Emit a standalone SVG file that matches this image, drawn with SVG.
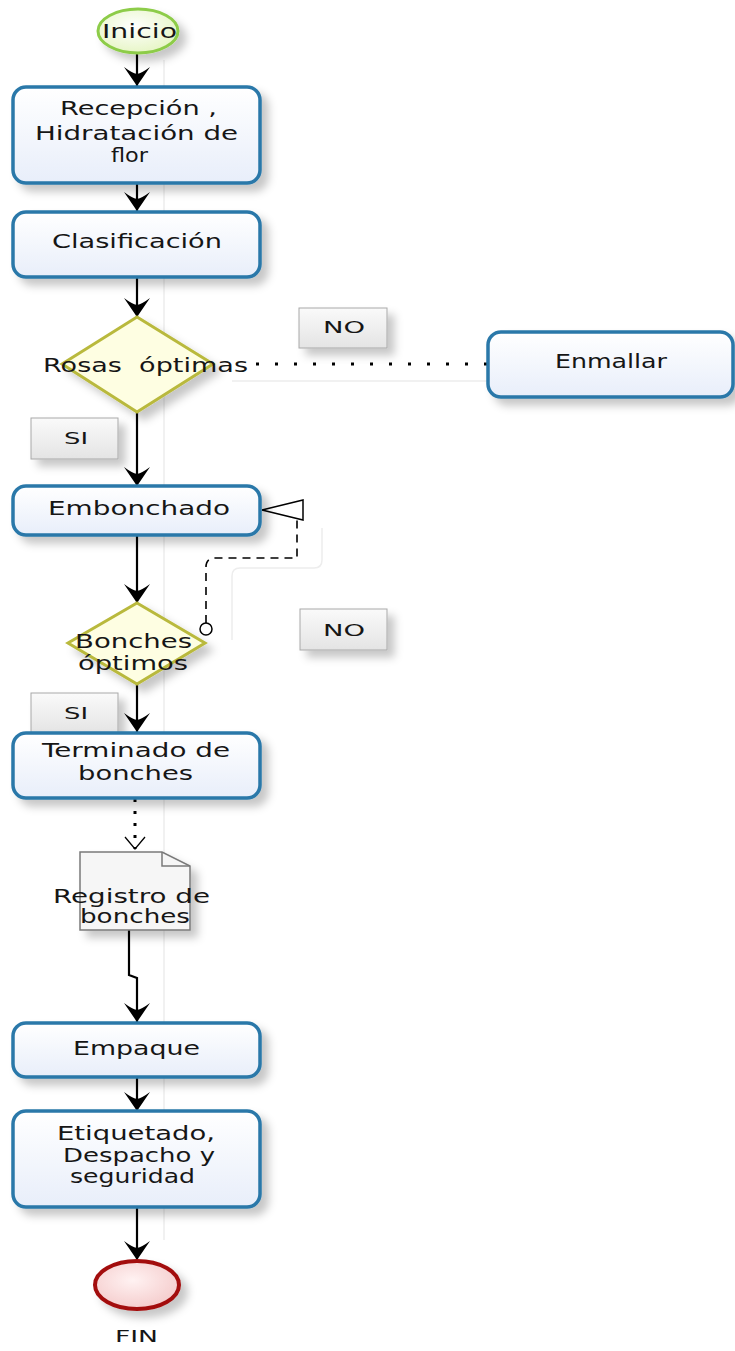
<svg xmlns="http://www.w3.org/2000/svg" width="735" height="1351" viewBox="0 0 735 1351">
  <defs>
    <style>
      .txt { font-family: "DejaVu Sans", "Liberation Sans", sans-serif; font-size: 19px; fill: #161616; white-space: pre; }
      .lbl { font-family: "DejaVu Sans", "Liberation Sans", sans-serif; font-size: 16px; fill: #161616; }
      .task { fill: url(#taskFill); stroke: #2a78a9; stroke-width: 3.5; }
      .gate { fill: #fefee2; stroke: #b9b93c; stroke-width: 3; stroke-linejoin: miter; }
      .tag { fill: url(#tagFill); stroke: #a8a8a8; stroke-width: 1; }
      .flow { fill: none; stroke: #000; stroke-width: 2.2; }
      .ghost { fill: none; stroke: #ededed; stroke-width: 1.5; }
    </style>
    <linearGradient id="taskFill" x1="0" y1="0" x2="0" y2="1">
      <stop offset="0" stop-color="#ffffff"/>
      <stop offset="1" stop-color="#e8eefa"/>
    </linearGradient>
    <linearGradient id="tagFill" x1="0" y1="0" x2="0" y2="1">
      <stop offset="0" stop-color="#fafafa"/>
      <stop offset="1" stop-color="#e4e4e4"/>
    </linearGradient>
    <radialGradient id="startFill" cx="0.45" cy="0.4" r="0.7">
      <stop offset="0" stop-color="#ffffff"/>
      <stop offset="1" stop-color="#e3f4bd"/>
    </radialGradient>
    <radialGradient id="endFill" cx="0.45" cy="0.4" r="0.7">
      <stop offset="0" stop-color="#fff2f2"/>
      <stop offset="1" stop-color="#f3c6c6"/>
    </radialGradient>
    <filter id="shadow" x="-20%" y="-20%" width="150%" height="160%">
      <feDropShadow dx="7" dy="7" stdDeviation="4" flood-color="#000" flood-opacity="0.22"/>
    </filter>
    <marker id="arrow" viewBox="-20 -14 21 28" refX="0" refY="0" markerWidth="21" markerHeight="28" markerUnits="userSpaceOnUse" orient="auto">
      <path d="M0,0 L-19,-13 Q-13,-5 -12,0 Q-13,5 -19,13 Z" fill="#000"/>
    </marker>
    <marker id="openV" viewBox="-14 -12 16 24" refX="0" refY="0" markerWidth="16" markerHeight="24" markerUnits="userSpaceOnUse" orient="auto">
      <path d="M-12,-10 L0,0 L-12,10" fill="none" stroke="#000" stroke-width="1.3"/>
    </marker>
  </defs>

  <rect width="735" height="1351" fill="#ffffff"/>

  <!-- faint guide traces behind the flow -->
  <g id="guides">
    <path class="ghost" d="M164,60 V1240"/>
    <path class="ghost" d="M232,381 H490"/>
    <path class="ghost" d="M322,528 V560 Q322,568 314,568 H240 Q232,568 232,576 V640"/>
  </g>

  <!-- connectors -->
  <g id="connectors">
    <path class="flow" d="M137,52 V86" marker-end="url(#arrow)"/>
    <path class="flow" d="M137,183 V211" marker-end="url(#arrow)"/>
    <path class="flow" d="M137,277 V317" marker-end="url(#arrow)"/>
    <path class="flow" d="M137,412 V486" marker-end="url(#arrow)"/>
    <path class="flow" d="M137,535 V603" marker-end="url(#arrow)"/>
    <path class="flow" d="M137,684 V732" marker-end="url(#arrow)"/>
    <path d="M135,799 V849" fill="none" stroke="#000" stroke-width="3" stroke-dasharray="3 9" marker-end="url(#openV)"/>
    <path class="flow" d="M129,930 V975 L137,978 V1022" marker-end="url(#arrow)"/>
    <path class="flow" d="M137,1077 V1111" marker-end="url(#arrow)"/>
    <path class="flow" d="M137,1207 V1260" marker-end="url(#arrow)"/>
    <!-- NO branch to Enmallar -->
    <path d="M256,364 H488" fill="none" stroke="#000" stroke-width="3" stroke-dasharray="3 16"/>
    <!-- loop back to Embonchado -->
    <path d="M206,623 V567 Q206,558 215,558 H297 V519" fill="none" stroke="#000" stroke-width="1.6" stroke-dasharray="8 6"/>
    <circle cx="206" cy="629" r="6" fill="#fff" stroke="#000" stroke-width="1.5"/>
    <polygon points="262,510 303,500 303,520" fill="#fff" stroke="#000" stroke-width="1.5"/>
  </g>

  <g id="inicio">
    <ellipse cx="138" cy="31" rx="40" ry="22" fill="url(#startFill)" stroke="#8dcc48" stroke-width="3" filter="url(#shadow)"/>
    <text class="txt" x="102" y="38" textLength="75" lengthAdjust="spacingAndGlyphs">Inicio</text>
  </g>

  <g id="recepcion">
    <rect class="task" x="13" y="87" width="247" height="96" rx="13" filter="url(#shadow)"/>
    <text class="txt" x="60" y="115" textLength="157" lengthAdjust="spacingAndGlyphs">Recepción ,</text>
    <text class="txt" x="35" y="140" textLength="203" lengthAdjust="spacingAndGlyphs">Hidratación de</text>
    <text class="txt" x="111" y="162" textLength="37" lengthAdjust="spacingAndGlyphs">flor</text>
  </g>

  <g id="clasificacion">
    <rect class="task" x="13" y="212" width="247" height="65" rx="13" filter="url(#shadow)"/>
    <text class="txt" x="52" y="248" textLength="170" lengthAdjust="spacingAndGlyphs">Clasificación</text>
  </g>

  <g id="rosas-optimas">
    <polygon class="gate" points="137,317 213,364 137,412 62,364" filter="url(#shadow)"/>
    <text class="txt" x="43" y="372" textLength="205" lengthAdjust="spacingAndGlyphs">Rosas  óptimas</text>
  </g>

  <g id="label-no-1">
    <rect class="tag" x="299" y="308" width="88" height="40" filter="url(#shadow)"/>
    <text class="lbl" x="323" y="333" textLength="42" lengthAdjust="spacingAndGlyphs">NO</text>
  </g>

  <g id="enmallar">
    <rect class="task" x="488" y="332" width="245" height="65" rx="13" filter="url(#shadow)"/>
    <text class="txt" x="555" y="368" textLength="112" lengthAdjust="spacingAndGlyphs">Enmallar</text>
  </g>

  <g id="label-si-1">
    <rect class="tag" x="31" y="418" width="87" height="41" filter="url(#shadow)"/>
    <text class="lbl" x="64" y="444" textLength="24" lengthAdjust="spacingAndGlyphs">SI</text>
  </g>

  <g id="embonchado">
    <rect class="task" x="13" y="486" width="247" height="49" rx="13" filter="url(#shadow)"/>
    <text class="txt" x="48" y="515" textLength="182" lengthAdjust="spacingAndGlyphs">Embonchado</text>
  </g>

  <g id="bonches-optimos">
    <polygon class="gate" points="137,603 205,643 137,684 68,643" filter="url(#shadow)"/>
    <text class="txt" x="75" y="648" textLength="117" lengthAdjust="spacingAndGlyphs">Bonches</text>
    <text class="txt" x="78" y="670" textLength="110" lengthAdjust="spacingAndGlyphs">óptimos</text>
  </g>

  <g id="label-no-2">
    <rect class="tag" x="300" y="609" width="87" height="41" filter="url(#shadow)"/>
    <text class="lbl" x="323" y="636" textLength="42" lengthAdjust="spacingAndGlyphs">NO</text>
  </g>

  <g id="label-si-2">
    <rect class="tag" x="31" y="693" width="87" height="41" filter="url(#shadow)"/>
    <text class="lbl" x="64" y="719" textLength="24" lengthAdjust="spacingAndGlyphs">SI</text>
  </g>

  <g id="terminado">
    <rect class="task" x="13" y="733" width="247" height="65" rx="13" filter="url(#shadow)"/>
    <text class="txt" x="42" y="757" textLength="188" lengthAdjust="spacingAndGlyphs">Terminado de</text>
    <text class="txt" x="78" y="780" textLength="115" lengthAdjust="spacingAndGlyphs">bonches</text>
  </g>

  <g id="registro">
    <path d="M80,852 H162 L190,866 V930 H80 Z" fill="#f6f6f6" stroke="#7a7a7a" stroke-width="1.5" filter="url(#shadow)"/>
    <path d="M162,852 V866 H190" fill="none" stroke="#7a7a7a" stroke-width="1.5"/>
    <text class="txt" x="53" y="903" textLength="157" lengthAdjust="spacingAndGlyphs">Registro de</text>
    <text class="txt" x="80" y="923" textLength="110" lengthAdjust="spacingAndGlyphs">bonches</text>
  </g>

  <g id="empaque">
    <rect class="task" x="13" y="1023" width="247" height="54" rx="13" filter="url(#shadow)"/>
    <text class="txt" x="73" y="1055" textLength="127" lengthAdjust="spacingAndGlyphs">Empaque</text>
  </g>

  <g id="etiquetado">
    <rect class="task" x="13" y="1111" width="247" height="96" rx="13" filter="url(#shadow)"/>
    <text class="txt" x="57" y="1140" textLength="158" lengthAdjust="spacingAndGlyphs">Etiquetado,</text>
    <text class="txt" x="63" y="1162" textLength="152" lengthAdjust="spacingAndGlyphs">Despacho y</text>
    <text class="txt" x="70" y="1183" textLength="125" lengthAdjust="spacingAndGlyphs">seguridad</text>
  </g>

  <g id="fin">
    <ellipse cx="137" cy="1285" rx="42" ry="24" fill="url(#endFill)" stroke="#a30f0f" stroke-width="4" filter="url(#shadow)"/>
    <text class="lbl" x="115" y="1342" textLength="43" lengthAdjust="spacingAndGlyphs">FIN</text>
  </g>
</svg>
